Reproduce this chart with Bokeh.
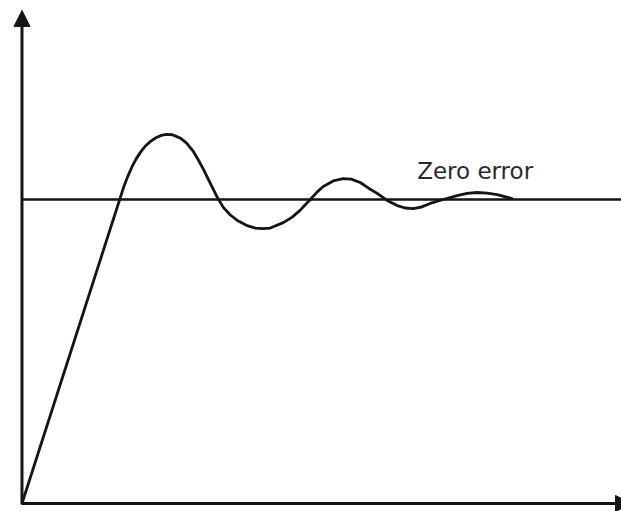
from bokeh.plotting import figure
from bokeh.models import Arrow, NormalHead, Range1d
from bokeh.core.properties import value
from bokeh.embed import file_html
from bokeh.resources import INLINE

# Response curve (time units, response normalised to set point = 1)
time = [0.0, 1.956, 2.04, 2.12, 2.20, 2.28, 2.37, 2.47, 2.58, 2.69, 2.79, 2.89,
        3.01, 3.17, 3.29, 3.43, 3.53, 3.63, 3.77, 3.91, 4.03, 4.17, 4.33, 4.51,
        4.67, 4.81, 4.97, 5.23, 5.41, 5.57, 5.77, 5.91, 6.03, 6.23, 6.43, 6.59,
        6.77, 6.93, 7.11, 7.31, 7.51, 7.67, 7.83, 7.99, 8.17, 8.43, 8.71, 8.91,
        9.11, 9.31, 9.51, 9.81]
response = [0.0, 1.0, 1.043, 1.077, 1.107, 1.132, 1.155, 1.176, 1.192, 1.204, 1.211, 1.214,
            1.213, 1.202, 1.186, 1.158, 1.130, 1.100, 1.053, 1.007, 0.974, 0.949, 0.929, 0.914,
            0.906, 0.904, 0.906, 0.924, 0.942, 0.965, 1.0, 1.025, 1.043, 1.061, 1.069, 1.067,
            1.056, 1.038, 1.020, 0.997, 0.980, 0.972, 0.970, 0.975, 0.987, 1.0, 1.013, 1.020,
            1.023, 1.021, 1.016, 1.003]

setpoint = 1.0
label_text = "Zero error"
label_pos = (7.91, 1.095)
x_axis_end = 12.2
y_axis_end = 1.622

p = figure(width=621, height=511, output_backend="svg", toolbar_location=None,
           x_range=Range1d(-0.43, 12.0), y_range=Range1d(-0.0263, 1.6546),
           min_border=0, x_axis_type=None, y_axis_type=None)
p.outline_line_color = None
p.xgrid.visible = False
p.ygrid.visible = False
p.background_fill_color = "white"
p.border_fill_color = "white"

ink = "#151515"

# set point line
p.line([0, 12.5], [setpoint, setpoint], line_color=ink, line_width=2.7)

# response curve
p.line(time, response, line_color=ink, line_width=2.8, line_join="round", line_cap="round")

# axes with arrowheads
p.add_layout(Arrow(end=NormalHead(size=16, fill_color=ink, line_color=ink, line_width=1),
                   x_start=0, y_start=0, x_end=0, y_end=y_axis_end,
                   line_color=ink, line_width=3))
p.add_layout(Arrow(end=NormalHead(size=16, fill_color=ink, line_color=ink, line_width=1),
                   x_start=0, y_start=0, x_end=x_axis_end, y_end=0,
                   line_color=ink, line_width=3))

p.text(x=[label_pos[0]], y=[label_pos[1]], text=[label_text],
       text_font=value("DejaVu Sans"), text_font_size="23px",
       text_color="#2a2a2a", text_baseline="alphabetic", text_align="left")

open("out.html", "w").write(file_html(p, INLINE))
